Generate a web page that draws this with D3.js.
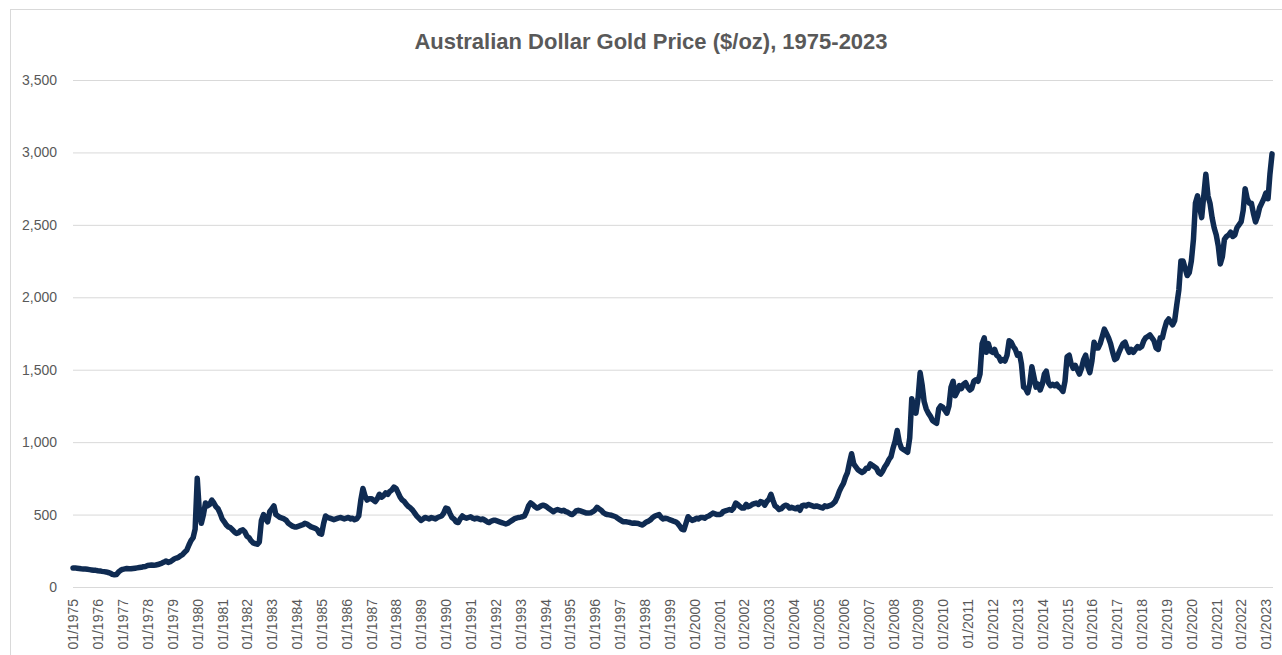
<!DOCTYPE html>
<html>

<head>
  <title>Australian Dollar Gold Price</title>
  <style>
    body { margin: 0; background: #fff; }
    text { font-family: "Liberation Sans", Arial, sans-serif; }
  </style>
</head>

<body>
  <svg id="svg"></svg>

  <script src="https://d3js.org/d3.v7.min.js"></script>
  <script>
    // monthly A$ gold price per oz
    let prices1970s = [ // 01/1975 - 12/1979
      131, 132, 130, 128, 126, 125, 124, 122, 120, 118, 116, 115,
      112, 111, 108, 106, 104, 100, 96, 87, 84, 86, 104, 115,
      122, 125, 128, 126, 126, 128, 130, 132, 134, 136, 140, 142,
      148, 150, 152, 150, 152, 155, 160, 165, 172, 180, 170, 175,
      185, 195, 200, 205, 215, 225, 240, 255, 290, 320, 340, 400
    ];
    let prices1980s = [
      750, 520, 440, 500, 580, 560, 570, 600, 580, 555, 540, 510,
      470, 450, 430, 415, 410, 395, 380, 370, 375, 390, 395, 380,
      350, 340, 320, 305, 300, 295, 310, 460, 500, 470, 450, 520,
      540, 560, 500, 490, 480, 475, 470, 460, 440, 430, 420, 415,
      415, 420, 425, 430, 440, 435, 425, 415, 410, 405, 395, 370,
      365, 440, 490, 480, 475, 470, 465, 470, 475, 480, 475, 470,
      475, 480, 470, 475, 465, 470, 490, 600, 680, 630, 600, 610,
      610, 600, 590, 610, 640, 620, 630, 650, 640, 660, 670, 690,
      680, 650, 620, 600, 590, 570, 555, 545, 530, 510, 490, 475,
      460, 470, 480, 475, 470, 480, 475, 470, 480, 485, 490, 510
    ];
    let prices1990s = [
      545, 540, 510, 480, 470, 450, 445, 470, 490, 480, 475, 480,
      485, 475, 470, 475, 470, 465, 470, 460, 450, 445, 455, 460,
      460, 455, 450, 445, 440, 435, 440, 450, 460, 470, 475, 480,
      482, 485, 490, 520, 560, 580, 570, 555, 545, 550, 560, 565,
      560, 550, 540, 530, 520, 530, 535, 530, 525, 530, 520, 515,
      505, 500, 510, 525, 530, 525, 520, 515, 510, 510, 512, 520,
      530, 550, 540, 530, 515, 505, 500, 498, 495, 490, 485, 475,
      465, 455, 450, 450, 448, 445, 440, 442, 440, 438, 432, 428,
      440, 450, 455, 465, 480, 490, 495, 500, 480, 470, 475, 472,
      465, 460, 455, 450, 440, 420, 400, 395, 440, 485, 470, 460
    ];
    let prices2000s = [
      465, 475, 470, 480, 480, 475, 485, 490, 500, 510, 505, 500,
      500, 505, 520, 525, 530, 535, 530, 545, 580, 570, 555, 545,
      545, 570, 555, 560, 570, 575, 580, 570, 590, 585, 565, 590,
      605, 640, 600, 560, 550, 535, 540, 555, 565, 560, 545, 550,
      545, 540, 550, 530, 560, 565, 560, 570, 565, 560, 555, 560,
      555, 550, 545, 560, 555, 560, 565, 575, 590, 620, 660, 690,
      715, 760, 790, 860, 920, 850, 830, 810, 800, 790, 800, 820,
      820, 850, 840, 830, 820, 790, 780, 800, 830, 850, 880, 900,
      960, 1010, 1080, 1000, 960, 950, 940, 930, 1030, 1300, 1250, 1200,
      1300, 1480, 1400, 1280, 1230, 1200, 1180, 1150, 1140, 1130, 1230, 1250
    ];
    let prices2010s = [
      1240, 1220, 1200, 1250, 1380, 1420, 1320, 1350, 1390, 1370, 1400, 1410,
      1380, 1360, 1370, 1420, 1430, 1420, 1470, 1680, 1720, 1620, 1680, 1630,
      1620, 1640, 1600, 1590, 1560, 1570, 1560, 1600, 1700, 1690, 1660, 1640,
      1600, 1610, 1540, 1380, 1370, 1340, 1400, 1520, 1450, 1380, 1400, 1360,
      1400, 1470, 1490, 1410, 1390, 1400, 1390, 1400, 1380, 1370, 1350, 1420,
      1590, 1600, 1540, 1510, 1530, 1500, 1470, 1510, 1570, 1600, 1520, 1480,
      1560, 1690, 1650, 1650, 1680, 1730, 1780, 1750, 1720, 1680, 1620, 1570,
      1580, 1620, 1650, 1680, 1690, 1650, 1620, 1640, 1620, 1640, 1660, 1650,
      1660, 1700, 1720, 1730, 1740, 1720, 1700, 1650, 1640, 1720, 1720, 1780,
      1830, 1850, 1830, 1810, 1840, 1950, 2050, 2250, 2250, 2200, 2150, 2170
    ];
    let prices2020s = [ // 01/2020 - 04/2023
      2250, 2400, 2650, 2700, 2620, 2550, 2700, 2850, 2700, 2650, 2550, 2480,
      2430, 2350, 2230, 2280, 2400, 2420, 2430, 2450, 2420, 2430, 2480, 2500,
      2520, 2600, 2750, 2680, 2650, 2650, 2580, 2520, 2560, 2620, 2650, 2680,
      2720, 2680, 2850, 2990
    ];
    let yTicks = [0, 500, 1000, 1500, 2000, 2500, 3000, 3500];
    let title = "Australian Dollar Gold Price ($/oz), 1975-2023";

    let start = new Date(1975, 0, 1);
    let data = [].concat(prices1970s, prices1980s, prices1990s, prices2000s, prices2010s, prices2020s)
      .map((v, i) => ({ date: d3.timeMonth.offset(start, i), price: v }));

    let W = 1282, H = 655;
    let margin = { top: 80, right: 9, bottom: 68, left: 73 };
    let width = W - margin.left - margin.right;
    let height = H - margin.top - margin.bottom;

    let svg = d3.select("#svg").attr("width", W).attr("height", H);

    // chart border
    svg.append("rect")
      .attr("x", 10.5).attr("y", 9.5)
      .attr("width", W + 20).attr("height", H + 20)
      .attr("fill", "none").attr("stroke", "#d9d9d9");

    svg.append("text")
      .attr("x", 651).attr("y", 49)
      .attr("text-anchor", "middle")
      .attr("font-size", 22).attr("font-weight", "bold")
      .attr("fill", "#595959")
      .text(title);

    let x = d3.scaleTime()
      .domain([start, new Date(2023, 3, 15)])
      .range([0, width]);
    let y = d3.scaleLinear().domain([0, 3500]).range([height, 0]);

    let g = svg.append("g").attr("transform", `translate(${margin.left},${margin.top})`);

    let yAxis = g.append("g")
      .call(d3.axisLeft(y).tickValues(yTicks).tickFormat(d3.format(",")).tickSize(-width).tickPadding(16));
    yAxis.select(".domain").remove();
    yAxis.selectAll("line").attr("stroke", "#d9d9d9");
    yAxis.selectAll("text").attr("fill", "#595959").attr("font-size", 14);

    let xAxis = g.append("g")
      .attr("transform", `translate(0,${height})`)
      .call(d3.axisBottom(x).ticks(d3.timeYear.every(1)).tickFormat(d3.timeFormat("%m/%Y")).tickSize(0));
    xAxis.select(".domain").remove();
    xAxis.selectAll("text")
      .attr("transform", "rotate(-90)")
      .attr("x", -12).attr("y", 0).attr("dy", "0.35em")
      .attr("text-anchor", "end")
      .attr("fill", "#595959").attr("font-size", 14);

    let line = d3.line().x(d => x(d.date)).y(d => y(d.price));

    g.append("path")
      .datum(data)
      .attr("d", line)
      .attr("fill", "none")
      .attr("stroke", "#0f2b52")
      .attr("stroke-width", 5.5)
      .attr("stroke-linejoin", "round")
      .attr("stroke-linecap", "round");
  </script>
</body>

</html>
